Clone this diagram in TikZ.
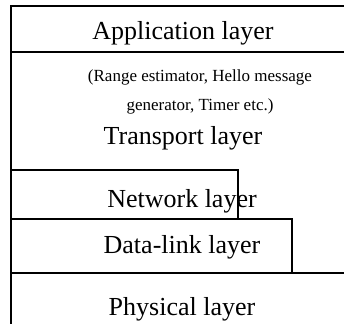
\documentclass[tikz,border=0pt]{standalone}
\usepackage{fontspec}
\setmainfont{Liberation Serif}
\usetikzlibrary{calc}

\tikzset{
    layertext/.style={anchor=base, inner sep=0pt, font=\fontsize{26}{30}\selectfont},
    notetext/.style={anchor=base, inner sep=0pt, align=center, font=\fontsize{17}{29}\selectfont},
    edge/.style={line width=1.3pt}
}

\begin{document}
\begin{tikzpicture}[x=1pt, y=1pt]
            \useasboundingbox (0,0) rectangle (344,324);

            \draw[edge] (344,318) -- (11,318) -- (11,0);
            \draw[edge] (11,272) -- (344,272);
            \draw[edge] (11,154) -- (238,154) -- (238,105);
            \draw[edge] (11,105) -- (292,105) -- (292,51);
            \draw[edge] (11,51) -- (344,51);

            \node[layertext] (app) at (183,284) {Application layer};
            % base of a two-line node sits on its last line
            \node[notetext] (note) at (200,213) {(Range estimator, Hello message\\generator, Timer etc.)};
            \node[layertext] (transport) at (183,179) {Transport layer};
            \node[layertext] (network) at (182,117) {Network layer};
            \node[layertext] (datalink) at (182,71) {Data-link layer};
            \node[layertext] (physical) at (182,9) {Physical layer};

        \end{tikzpicture}
\end{document}
